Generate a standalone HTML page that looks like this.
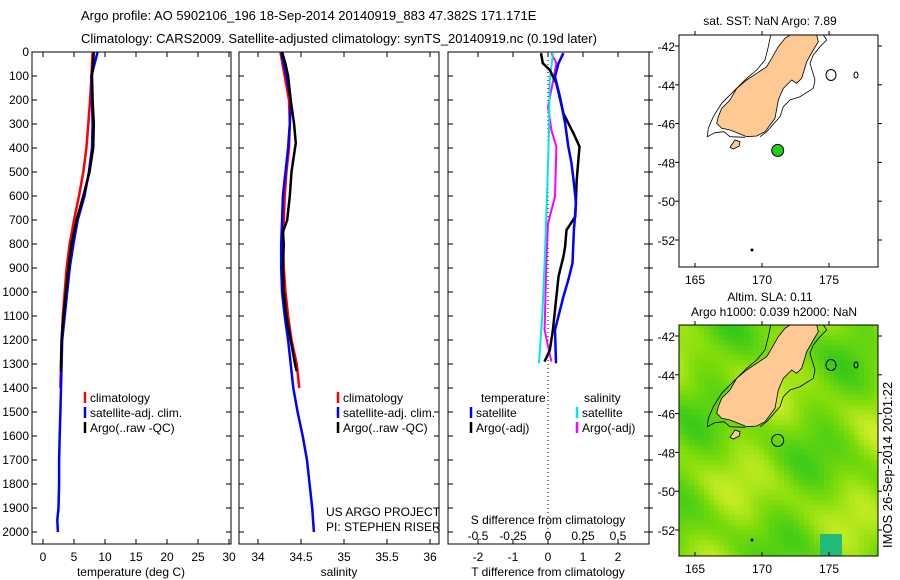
<!DOCTYPE html>
<html><head><meta charset="utf-8"><style>
html,body{margin:0;padding:0;background:#fff;}
svg{display:block;font-family:"Liberation Sans",sans-serif;}
</style></head><body>
<svg id="c" width="900" height="580" viewBox="0 0 900 580" xmlns="http://www.w3.org/2000/svg">
<text x="81" y="20" font-size="13">Argo profile: AO 5902106_196 18-Sep-2014 20140919_883 47.382S 171.171E</text>
<text x="81" y="43" font-size="13">Climatology: CARS2009. Satellite-adjusted climatology: synTS_20140919.nc (0.19d later)</text>
<g id="g"></g>
</svg>
<script>
// ---- data ----
const depthTicks=[0,100,200,300,400,500,600,700,800,900,1000,1100,1200,1300,1400,1500,1600,1700,1800,1900,2000];
const tempTicks=[0,5,10,15,20,25,30];
const salTicks=[34,34.5,35,35.5,36];
const salTickLabels=["34","34.5","35","35.5","36"];
const tdTicks=[-2,-1,0,1,2];
const sdTickLabels=["-0.5","-0.25","0","0.25","0.5"];
const sdTicks=[-0.5,-0.25,0,0.25,0.5];

const tClimP=[0,100,200,300,400,500,600,700,800,900,1000,1100,1200,1300,1400];
const tClimV=[8.0,7.8,7.6,7.3,7.0,6.5,5.8,5.0,4.3,3.8,3.5,3.2,3.0,2.9,2.8];
const tSatP=[0,50,100,200,300,400,500,600,700,800,900,1000,1100,1200,1300,1400,1500,1600,1700,1800,1900,1950,2000];
const tSatV=[8.8,8.3,7.8,7.9,8.0,7.9,7.4,6.7,5.6,4.9,4.3,3.9,3.5,3.1,3.0,2.9,2.8,2.7,2.6,2.6,2.5,2.3,2.4];
const tArgoP=[0,100,200,300,400,500,600,700,800,900,1000,1100,1200,1300,1330];
const tArgoV=[8.2,7.9,8.0,8.2,8.1,7.5,6.5,5.4,4.6,4.1,3.7,3.3,3.0,2.9,2.9];

const sClimP=[0,100,200,300,400,500,600,700,800,900,1000,1100,1200,1300,1400];
const sClimV=[34.26,34.31,34.36,34.37,34.36,34.33,34.31,34.30,34.29,34.30,34.32,34.35,34.39,34.45,34.48];
const sSatP=[0,100,200,300,400,500,600,700,800,900,1000,1100,1200,1300,1400,1500,1600,1700,1800,1900,2000];
const sSatV=[34.27,34.33,34.38,34.37,34.35,34.32,34.29,34.28,34.27,34.27,34.28,34.31,34.35,34.38,34.41,34.46,34.52,34.57,34.60,34.63,34.65];
const sArgoP=[0,50,100,200,300,380,400,500,600,700,750,800,900,1000,1100,1200,1300,1330];
const sArgoV=[34.28,34.32,34.35,34.38,34.42,34.44,34.43,34.39,34.37,34.34,34.29,34.30,34.29,34.30,34.33,34.38,34.43,34.45];

const dTSatP=[5,47,103,186,296,394,463,547,631,742,880,950,1019,1158,1297];
const dTSatV=[0.44,0.30,0.20,0.34,0.49,0.58,0.67,0.74,0.80,0.74,0.70,0.58,0.44,0.20,0.23];
const dTArgoP=[5,47,75,131,256,339,394,533,686,742,811,853,936,1019,1158,1242,1290];
const dTArgoV=[-0.20,-0.15,0.05,0.24,0.44,0.73,0.90,0.82,0.78,0.53,0.49,0.44,0.30,0.24,0.14,0.05,-0.10];
const dSArgoP=[5,47,117,228,325,394,603,714,880,1158,1290];
const dSArgoV=[0.024,0.06,0.038,0.0,0.024,0.06,0.05,0.0,-0.012,-0.024,0.024];
const dSSatP=[5,117,325,603,880,1089,1297];
const dSSatV=[0.036,0.012,0.007,-0.007,-0.024,-0.04,-0.064];

const lonTicks=[165,170,175];
const latTicks=[-42,-44,-46,-48,-50,-52];
const argoLon=171.171, argoLat=-47.382;

// ---- helpers ----
const NS="http://www.w3.org/2000/svg";
const G=document.getElementById('g');
function mk(tag,attrs,parent){const e=document.createElementNS(NS,tag);for(const k in attrs)e.setAttribute(k,attrs[k]);(parent||G).appendChild(e);return e;}
const yP=p=>52+0.24*p;
const xT=t=>43+6.2*t;
const xS=s=>258+86*(s-34);
const xDT=d=>548+35*d;
const xDS=d=>548+140*d;

function panel(x0,x1,name){
  const r=mk('rect',{x:x0,y:52,width:x1-x0,height:492,fill:'none',stroke:'#000','stroke-width':1});
  
  
}
function line(P,V,fx,color,name,w){
  const pts=P.map((p,i)=>fx(V[i]).toFixed(1)+','+yP(p).toFixed(1)).join(' ');
  const e=mk('polyline',{points:pts,fill:'none',stroke:color,'stroke-width':w||2.5});
  
  
}
function text(x,y,s,attrs,name){
  const e=mk('text',Object.assign({x:x,y:y,'font-size':12},attrs||{}));
  e.textContent=s;
  
  
  return e;
}

panel(32,231,'temperature-panel');
panel(239,439,'salinity-panel');
panel(448,649,'difference-panel');

depthTicks.forEach(p=>{
  const y=yP(p);
  text(29,y+4,String(p),{'text-anchor':'end'},'depth-tick-label');
  [[32,37],[226,231],[239,244],[434,439],[448,453],[644,649]].forEach(s=>mk('line',{x1:s[0],x2:s[1],y1:y,y2:y,stroke:'#000'}));
  mk('line',{x1:649,x2:653,y1:y,y2:y,stroke:'#000'});
});
tempTicks.forEach(t=>{const x=xT(t);
  mk('line',{x1:x,x2:x,y1:544,y2:539,stroke:'#000'});mk('line',{x1:x,x2:x,y1:52,y2:57,stroke:'#000'});
  text(x,561,String(t),{'text-anchor':'middle'},'temperature-tick-label');});
text(131,576,'temperature (deg C)',{'text-anchor':'middle'},'temperature-axis-title');
salTicks.forEach((s,i)=>{const x=xS(s);
  mk('line',{x1:x,x2:x,y1:544,y2:539,stroke:'#000'});mk('line',{x1:x,x2:x,y1:52,y2:57,stroke:'#000'});
  text(x,561,salTickLabels[i],{'text-anchor':'middle'},'salinity-tick-label');});
text(339,576,'salinity',{'text-anchor':'middle'},'salinity-axis-title');
tdTicks.forEach(t=>{const x=xDT(t);
  mk('line',{x1:x,x2:x,y1:544,y2:539,stroke:'#000'});mk('line',{x1:x,x2:x,y1:52,y2:57,stroke:'#000'});
  text(x,561,String(t),{'text-anchor':'middle'},'t-diff-tick-label');});
sdTicks.forEach((s,i)=>{const x=xDS(s);
  text(x,540,sdTickLabels[i],{'text-anchor':'middle'},'s-diff-tick-label');});
text(548,524,'S difference from climatology',{'text-anchor':'middle'},'s-diff-axis-title');
text(548,576,'T difference from climatology',{'text-anchor':'middle'},'t-diff-axis-title');
mk('line',{x1:548,x2:548,y1:52,y2:544,stroke:'#000','stroke-dasharray':'1,3'});

line(tClimP,tClimV,xT,'#ff0000','temp-climatology-line');
line(tSatP,tSatV,xT,'#0000ff','temp-satellite-line');
line(tArgoP,tArgoV,xT,'#000000','temp-argo-line');
line(sClimP,sClimV,xS,'#ff0000','sal-climatology-line');
line(sSatP,sSatV,xS,'#0000ff','sal-satellite-line');
line(sArgoP,sArgoV,xS,'#000000','sal-argo-line');
line(dSArgoP,dSArgoV,xDS,'#ff00ff','sdiff-argo-line',2);
line(dSSatP,dSSatV,xDS,'#00e5ee','sdiff-satellite-line',2);
line(dTArgoP,dTArgoV,xDT,'#000000','tdiff-argo-line');
line(dTSatP,dTSatV,xDT,'#0000ff','tdiff-satellite-line');

function leg(x,y,c,s,n){const e=mk('line',{x1:x,x2:x,y1:y-10,y2:y+1,stroke:c,'stroke-width':2.5});
  
  text(x+5,y,s,{},n);}
[[85,'temp'],[338,'sal']].forEach(([x,n])=>{
  leg(x,402,'#ff0000','climatology',n+'-legend-climatology');
  leg(x,417,'#0000ff','satellite-adj. clim.',n+'-legend-satellite');
  leg(x,432,'#000000','Argo(..raw -QC)',n+'-legend-argo');
});
text(481,402,'temperature',{},'legend-temperature-heading');
text(584,402,'salinity',{},'legend-salinity-heading');
leg(471,417,'#0000ff','satellite','legend-t-satellite');
leg(471,432,'#000000','Argo(-adj)','legend-t-argo');
leg(577,417,'#00e5ee','satellite','legend-s-satellite');
leg(577,432,'#ff00ff','Argo(-adj)','legend-s-argo');
text(326,516,'US ARGO PROJECT',{},'project-label');
text(326,531,'PI: STEPHEN RISER',{},'pi-label');

// ---- maps ----
const landZ=[[420,105],[500,105],[505,125],[490,150],[470,185],[455,235],[440,250],[425,240],[400,265],[385,300],[375,355],[360,375],[345,395],[320,408],[290,410],[265,400],[240,390],[215,385],[200,370],[205,350],[215,325],[240,300],[260,265],[290,240],[320,220],[350,200],[365,175],[385,140],[405,115]];
const stewZ=[[240,442],[255,420],[270,425],[268,438],[250,447]];
const contW=[[362,105],[355,140],[345,180],[320,210],[290,235],[250,275],[215,310],[190,350],[175,385],[172,410],[195,398],[222,395],[240,410],[285,412]];
const contE=[[520,105],[530,120],[510,140],[490,165],[480,190],[495,240],[490,265],[450,290],[420,300],[400,320],[390,350],[350,395],[330,410]];
function mix(a,b,t){const pa=[parseInt(a.slice(1,3),16),parseInt(a.slice(3,5),16),parseInt(a.slice(5,7),16)];
  const pb=[parseInt(b.slice(1,3),16),parseInt(b.slice(3,5),16),parseInt(b.slice(5,7),16)];
  return 'rgb('+pa.map((v,i)=>Math.round(v+(pb[i]-v)*t)).join(',')+')';}
function mp(box,dy,name,heat){
  const g=mk('g',{});
  
  const cid='clip'+dy;
  const cp=mk('clipPath',{id:cid},g);mk('rect',{x:679,y:box[0],width:199,height:box[1]-box[0]},cp);
  const inner=mk('g',{'clip-path':'url(#'+cid+')'},g);
  mk('rect',{x:679,y:box[0],width:199,height:box[1]-box[0],fill:heat?'#88dd11':'#fff'},inner);
  if(heat){
    for(let x=679;x<878;x+=5)for(let y=box[0];y<box[1];y+=5){
      const v=Math.sin(x*0.05+y*0.018)*0.6+Math.sin(y*0.06-x*0.02)*0.5+Math.sin((x-y)*0.09)*0.3;
      let t=(v+1.4)/2.8;t=Math.max(0,Math.min(1,t));
      const c=t<0.5?mix('#33c81a','#7fdc0a',t*2):mix('#7fdc0a','#d8f02a',(t-0.5)*2);
      mk('rect',{x:x,y:y,width:5,height:5,fill:c},inner);
    }
    mk('rect',{x:820,y:box[1]-22,width:22,height:22,fill:'#22bb77'},inner);
  }
  const tr=p=>(650+p[0]/3).toFixed(1)+','+(p[1]/3+dy).toFixed(1);
  mk('polygon',{points:landZ.map(tr).join(' '),fill:'#fec993',stroke:'#000','stroke-width':0.8},inner);
  mk('polygon',{points:stewZ.map(tr).join(' '),fill:'#fec993',stroke:'#000','stroke-width':0.8},inner);
  mk('polyline',{points:contW.map(tr).join(' '),fill:'none',stroke:'#000','stroke-width':0.8},inner);
  mk('polyline',{points:contE.map(tr).join(' '),fill:'none',stroke:'#000','stroke-width':0.8},inner);
  mk('ellipse',{cx:831,cy:dy+75,rx:5,ry:5.5,fill:'none',stroke:'#000'},inner);
  mk('ellipse',{cx:856,cy:dy+75,rx:2,ry:3,fill:'none',stroke:'#000'},inner);
  mk('circle',{cx:712,cy:dy+281,r:2,fill:'#000'},inner);
  mk('circle',{cx:752,cy:dy+250,r:1.5,fill:'#000'},inner);
  const lx=l=>695+(l-165)*13.4, ly=l=>box[2]+(-42-l)*19.4;
  const dot=mk('circle',{cx:lx(argoLon),cy:ly(argoLat),r:6,fill:heat?'none':'#22cc22',stroke:'#000'},g);
  
  mk('rect',{x:679,y:box[0],width:199,height:box[1]-box[0],fill:'none',stroke:'#000'},g);
  lonTicks.forEach(l=>{const x=lx(l);mk('line',{x1:x,x2:x,y1:box[1],y2:box[1]-4,stroke:'#000'},g);mk('line',{x1:x,x2:x,y1:box[0],y2:box[0]-4,stroke:'#000'},g);
    text(x,box[1]+17,String(l),{'text-anchor':'middle'},'lon-tick-label');});
  latTicks.forEach(l=>{const y=ly(l);mk('line',{x1:679,x2:675,y1:y,y2:y,stroke:'#000'},g);mk('line',{x1:878,x2:882,y1:y,y2:y,stroke:'#000'},g);
    text(675,y+5,String(l),{'text-anchor':'end'},'lat-tick-label');});
}
mp([35,267,46],0,'sst-map',false);
mp([325,556,336],290,'sla-map',true);
text(770,25,'sat. SST: NaN Argo: 7.89',{'text-anchor':'middle'},'sst-map-title');
text(770,301,'Altim. SLA: 0.11',{'text-anchor':'middle'},'sla-map-title-1');
text(774,316,'Argo h1000: 0.039 h2000: NaN',{'text-anchor':'middle'},'sla-map-title-2');
text(0,0,'IMOS 26-Sep-2014 20:01:22',{transform:'translate(892,548) rotate(-90)','font-size':13},'imos-timestamp');
</script>
</body></html>
